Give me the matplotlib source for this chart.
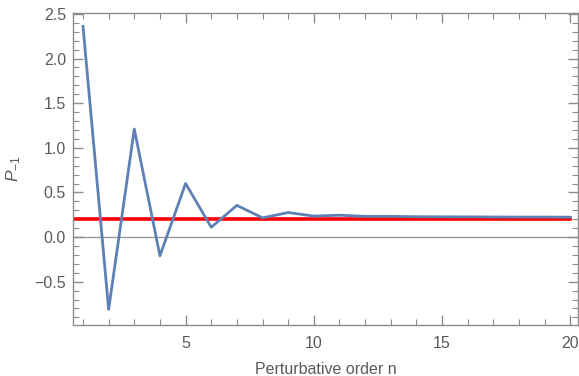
import matplotlib.pyplot as plt
import numpy as np
from matplotlib.ticker import MultipleLocator

# 数据
orders = [1, 2, 3, 4, 5, 6, 7, 8, 9, 10, 11, 12, 13, 14, 15, 16, 17, 18, 19, 20]
p_minus1 = [2.36, -0.81, 1.21, -0.21, 0.60, 0.11, 0.355, 0.215, 0.275, 0.235,
            0.245, 0.232, 0.232, 0.228, 0.227, 0.226, 0.225, 0.224, 0.224, 0.223]
limit_value = 0.198

plt.rcParams['font.family'] = ['Liberation Sans', 'DejaVu Sans']
plt.rcParams['mathtext.fontset'] = 'custom'
plt.rcParams['mathtext.rm'] = 'Liberation Sans'
plt.rcParams['mathtext.it'] = 'Liberation Sans:italic'

fig = plt.figure(figsize=(5.79, 3.76), dpi=100)
ax = fig.add_axes([73 / 579, 1 - 325 / 376, 505 / 579, 312 / 376])

gray = '#8c8c8c'
text_gray = '#5a5a5a'

ax.axhline(0, color='#999999', lw=1.0, zorder=1)
ax.plot([0, orders[-1]], [limit_value, limit_value], color='#ff0000', lw=2.6, zorder=2)
ax.plot(orders, p_minus1, color='#5e81b5', lw=2.0, zorder=3)

ax.set_xlim(0.61, 20.3)
ax.set_ylim(-0.985, 2.51)

ax.xaxis.set_major_locator(MultipleLocator(5))
ax.xaxis.set_minor_locator(MultipleLocator(1))
ax.yaxis.set_major_locator(MultipleLocator(0.5))
ax.yaxis.set_minor_locator(MultipleLocator(0.1))
ax.yaxis.set_major_formatter(plt.FuncFormatter(lambda v, p: f'{v:.1f}'.replace('-', '\u2212')))
ax.xaxis.set_major_formatter(plt.FuncFormatter(lambda v, p: f'{int(v)}'))

for side in ax.spines.values():
    side.set_color(gray)
    side.set_linewidth(1.0)

ax.tick_params(which='both', direction='in', top=True, right=True, color=gray,
               labelcolor=text_gray, labelsize=11.5)
ax.tick_params(which='major', length=7, width=1.0)
ax.tick_params(which='minor', length=4, width=0.8)
ax.tick_params(axis='x', pad=8)
ax.tick_params(axis='y', pad=5)

ax.set_xlabel('Perturbative order n', color=text_gray, fontsize=11.5, labelpad=8)
ax.set_ylabel(r'$P_{-1}$', color=text_gray, fontsize=12.5, labelpad=8)

fig.savefig('out.png', dpi=100)
